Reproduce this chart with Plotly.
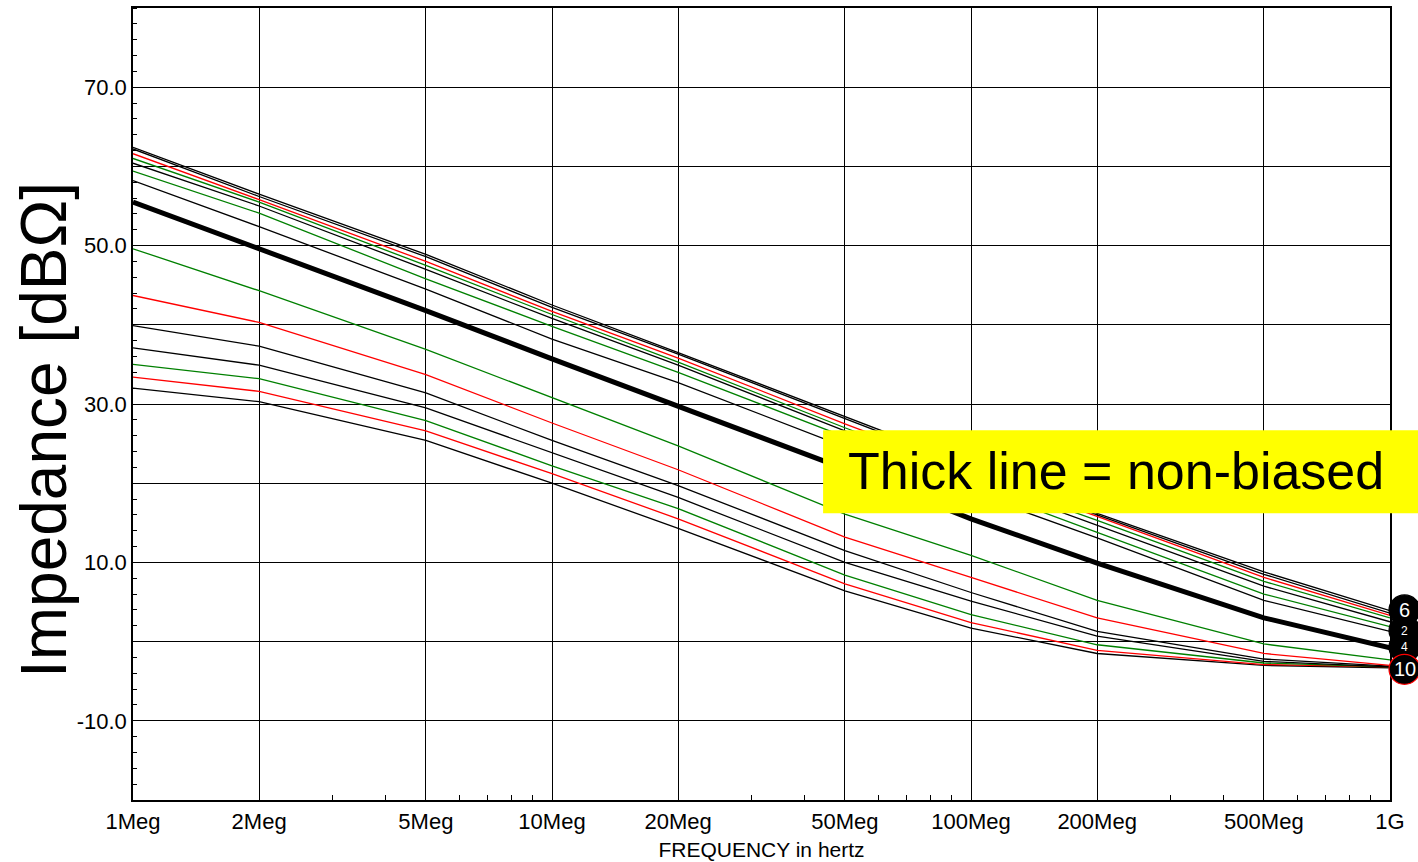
import plotly.graph_objects as go

# Frequency sample points (Hz)
freq = [1e6, 2e6, 5e6, 1e7, 2e7, 5e7, 1e8, 2e8, 5e8, 1e9]

# Impedance curves in dBOhm
c01_black = [62.4, 56.5, 48.9, 42.5, 36.5, 28.4, 22.3, 16.2, 8.8, 3.9]
c02_black = [62.2, 56.2, 48.6, 42.2, 36.3, 28.2, 22.0, 16.0, 8.5, 3.6]
c03_red = [61.6, 55.8, 48.0, 41.7, 35.8, 27.5, 21.5, 15.8, 8.1, 3.3]
c04_green = [61.0, 55.5, 47.5, 41.3, 35.3, 27.0, 21.0, 15.3, 7.6, 3.0]
c05_black = [60.4, 55.0, 47.0, 40.8, 34.9, 26.6, 20.5, 14.7, 7.0, 2.5]
c06_green = [59.4, 54.1, 45.8, 39.8, 34.0, 25.8, 19.7, 13.8, 6.0, 1.9]
c07_black = [58.2, 52.4, 44.5, 38.2, 32.7, 24.6, 18.8, 13.1, 5.2, 1.3]
thick_nonbiased = [55.5, 49.6, 41.8, 35.7, 29.7, 21.8, 15.5, 9.9, 3.0, -0.8]
c09_green = [49.6, 44.3, 36.9, 30.8, 24.7, 16.1, 10.9, 5.2, -0.3, -2.3]
c10_red = [43.7, 40.3, 33.7, 27.6, 21.7, 13.2, 8.1, 3.0, -1.5, -3.0]
c11_black = [39.9, 37.3, 31.4, 25.4, 19.7, 11.5, 6.2, 1.3, -2.2, -3.1]
c12_black = [37.1, 34.9, 29.5, 23.8, 18.2, 10.0, 5.1, 0.7, -2.5, -3.2]
c13_green = [35.0, 33.2, 27.9, 22.2, 16.8, 8.4, 3.4, -0.4, -2.7, -3.2]
c14_red = [33.4, 31.6, 26.6, 21.2, 15.5, 7.3, 2.4, -1.1, -2.9, -3.2]
c15_black = [32.0, 30.3, 25.4, 20.0, 14.3, 6.4, 1.7, -1.5, -3.0, -3.3]

# Axis ticks
x_tickvals = [1e6, 2e6, 5e6, 1e7, 2e7, 5e7, 1e8, 2e8, 5e8, 1e9]
x_ticktext = ["1Meg", "2Meg", "5Meg", "10Meg", "20Meg", "50Meg", "100Meg", "200Meg", "500Meg", "1G"]
x_minor = [m * 10 ** d for d in (6, 7, 8) for m in (3, 4, 6, 7, 8, 9)]
y_tickvals = [-20, -10, 0, 10, 20, 30, 40, 50, 60, 70, 80]
y_ticktext = ["", "-10.0", "", "10.0", "", "30.0", "", "50.0", "", "70.0", ""]

# End-of-trace labels (drawn in this order; later ones cover earlier ones)
label_text = ["4", "2", "6", "10"]
label_y = [-0.7, 1.4, 4.0, -3.5]

BLACK = "#000000"
RED = "#ff0000"
GREEN = "#008000"

series = [
    (c15_black, BLACK), (c14_red, RED), (c13_green, GREEN), (c12_black, BLACK),
    (c11_black, BLACK), (c10_red, RED), (c09_green, GREEN),
    (c07_black, BLACK), (c06_green, GREEN), (c05_black, BLACK), (c04_green, GREEN),
    (c03_red, RED), (c02_black, BLACK), (c01_black, BLACK),
]

fig = go.Figure()
for vals, col in series:
    fig.add_trace(go.Scatter(x=freq, y=vals, mode="lines",
                             line=dict(color=col, width=1.3), showlegend=False,
                             hoverinfo="skip"))
fig.add_trace(go.Scatter(x=freq, y=thick_nonbiased, mode="lines",
                         line=dict(color=BLACK, width=5), showlegend=False,
                         hoverinfo="skip"))

font = "Liberation Sans, Arial, sans-serif"

shapes = [dict(type="rect", xref="paper", yref="paper",
               x0=0.549, x1=1.03, y0=0.362, y1=0.467,
               fillcolor="#ffff00", line=dict(width=0), layer="above")]
annotations = [
    dict(text="Thick line = non-biased", xref="paper", yref="paper",
         x=0.782, y=0.415, showarrow=False, xanchor="center", yanchor="middle",
         font=dict(family=font, size=52, color="black")),
    dict(text="Impedance [dBΩ]", xref="paper", yref="paper",
         x=(44 - 133) / 1257, y=(800 - 430) / 792, showarrow=False,
         xanchor="center", yanchor="middle", textangle=-90,
         font=dict(family=font, size=64, color="black")),
]

for t, yv in zip(label_text, label_y):
    big = t in ("6", "10")
    shapes.append(dict(
        type="circle", xref="paper", yref="y",
        xsizemode="pixel", ysizemode="pixel", xanchor=1.0, yanchor=yv,
        x0=-1, x1=30, y0=-15, y1=15,
        fillcolor=BLACK, line=dict(color=RED if t == "10" else BLACK, width=1.2),
        layer="above"))
    annotations.append(dict(
        text=t, xref="paper", yref="y", x=1.0, y=yv, xshift=14.5,
        showarrow=False, xanchor="center", yanchor="middle",
        font=dict(family=font, size=20 if big else 12, color="white")))

fig.update_layout(
    width=1418, height=862, autosize=False,
    margin=dict(l=133, r=28, t=8, b=62),
    paper_bgcolor="white", plot_bgcolor="white",
    font=dict(family=font, size=22, color="black"),
    xaxis=dict(
        type="log", range=[6, 9], automargin=False,
        tickmode="array", tickvals=x_tickvals, ticktext=x_ticktext,
        ticks="", showgrid=True, gridcolor=BLACK, gridwidth=1,
        showline=True, linecolor=BLACK, linewidth=1.5, mirror=True,
        tickfont=dict(family=font, size=22, color="black"),
        ticklabelstandoff=1,
        title=dict(text="FREQUENCY in hertz", font=dict(family=font, size=21), standoff=9),
        minor=dict(tickmode="array", tickvals=x_minor, ticks="inside", ticklen=5,
                   tickcolor=BLACK, tickwidth=1, showgrid=False),
        zeroline=False,
    ),
    yaxis=dict(
        range=[-20, 80], automargin=False,
        tickmode="array", tickvals=y_tickvals, ticktext=y_ticktext,
        ticks="", showgrid=True, gridcolor=BLACK, gridwidth=1,
        showline=True, linecolor=BLACK, linewidth=1.5, mirror=True,
        tickfont=dict(family=font, size=22, color="black"),
        minor=dict(dtick=2, tick0=0, ticks="inside", ticklen=4,
                   tickcolor=BLACK, tickwidth=1, showgrid=False),
        zeroline=False,
    ),
    shapes=shapes,
    annotations=annotations,
)

fig.write_html("out.html")
